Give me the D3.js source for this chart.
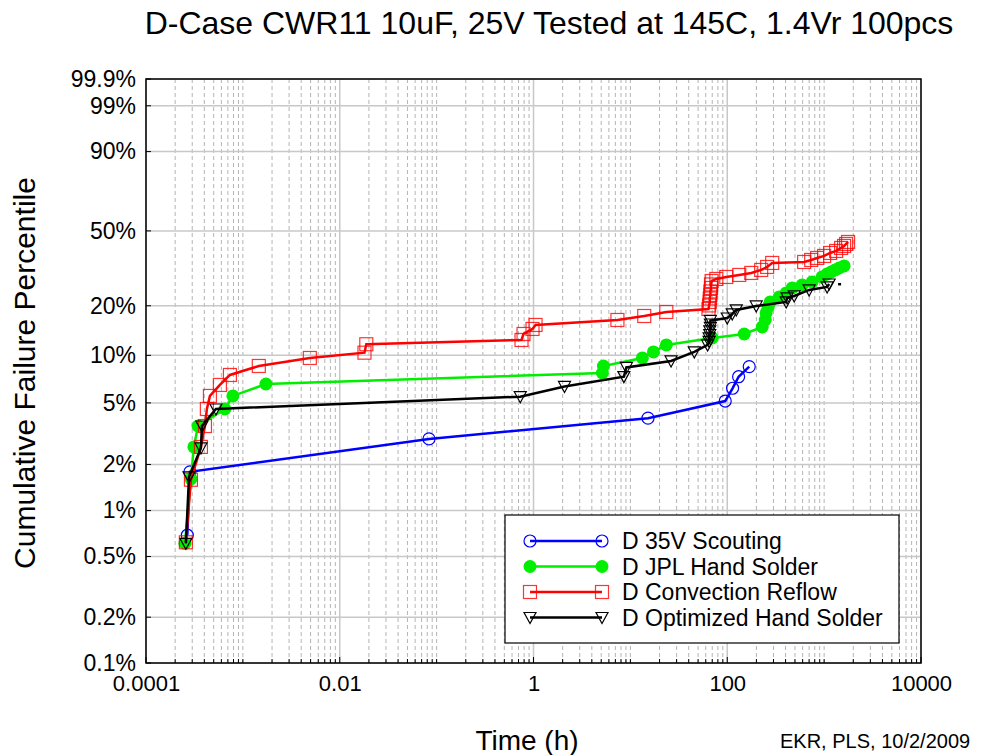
<!DOCTYPE html>
<html>
<head>
<meta charset="utf-8">
<script src="https://cdn.jsdelivr.net/npm/d3@7"></script>
<style>
  body { margin: 0; background: #fff; }
  svg { font-family: Arial, "Liberation Sans", sans-serif; }
</style>
</head>
<body>
<div id="chart"></div>
<script>
// D 35V Scouting
const scoutTime = [2.67e-4, 2.84e-4, 0.0834, 15.2, 95.3, 113.5, 131, 168.6];
const scoutPct  = [0.69, 1.79, 2.93, 3.99, 5.14, 6.20, 7.34, 8.50];

// D JPL Hand Solder
const jplTime = [2.52e-4, 2.91e-4, 3.12e-4, 3.44e-4, 6.52e-4, 7.88e-4, 1.73e-3, 5.14, 5.27, 13.3,
                 17.3, 23.5, 70.0, 149.6, 229.6, 246.6, 252, 264.6, 277.5, 343.6,
                 405.7, 468, 593, 752, 953, 1074, 1180, 1298, 1428, 1608];
const jplPct  = [0.61, 1.61, 2.60, 3.55, 4.57, 5.54, 6.60, 7.75, 8.58, 9.63,
                 10.50, 11.60, 12.81, 13.55, 14.95, 16.47, 18.14, 19.68, 21.06, 22.51,
                 23.73, 25.34, 26.35, 27.39, 29.19, 30.32, 31.07, 31.87, 32.66, 33.48];

// D Convection Reflow
const reflowTime = [2.58e-4, 2.91e-4, 3.69e-4, 4.06e-4, 4.25e-4, 4.57e-4, 5.79e-4, 7.35e-4, 1.46e-3, 4.91e-3,
                    0.0180, 0.0188, 0.752, 0.789, 0.977, 1.05, 7.35, 13.9, 23.5, 64,
                    65, 66, 66, 67, 67, 68, 68, 69, 77.1, 97.7,
                    133, 177, 224, 258, 291, 622, 735, 847, 1000, 1153,
                    1330, 1497, 1608, 1687, 1767];
const reflowPct  = [0.62, 1.59, 2.60, 3.55, 4.57, 5.54, 6.51, 7.53, 8.58, 9.63,
                    10.39, 11.72, 12.45, 13.55, 14.54, 15.37, 16.47, 17.40, 18.39, 19.15,
                    20.09, 21.06, 22.06, 23.11, 24.20, 25.34, 26.51, 27.73, 28.45, 29.19,
                    29.94, 30.70, 31.87, 33.07, 34.73, 35.15, 36.01, 36.88, 37.77, 39.13,
                    40.05, 41.46, 42.41, 43.38, 44.36];

// D Optimized Hand Solder
const optTime = [2.58e-4, 2.78e-4, 3.69e-4, 3.78e-4, 5.27e-4, 0.730, 2.09, 8.57, 9.10, 26.3,
                 45.7, 62.7, 65, 65, 66, 66, 67, 67, 67, 100,
                 112.6, 123.9, 199, 406, 415, 491, 700, 1074, 1127];
const optPct  = [0.61, 1.66, 2.56, 3.55, 4.57, 5.48, 6.37, 7.35, 8.40, 9.23,
                 10.50, 11.60, 12.19, 12.81, 13.45, 14.14, 14.85, 15.58, 16.36, 16.93,
                 17.89, 18.90, 19.95, 21.06, 22.21, 22.81, 24.69, 25.67, 26.68];
const optTailTime = [1393, 1571];
const optTailPct  = [26.6, 26.6];

const yTicks = [0.1, 0.2, 0.5, 1, 2, 5, 10, 20, 50, 90, 99, 99.9];
const yTickLabels = ["0.1%", "0.2%", "0.5%", "1%", "2%", "5%", "10%", "20%", "50%", "90%", "99%", "99.9%"];
const xTicks = [1e-4, 1e-2, 1, 1e2, 1e4];
const xTickLabels = ["0.0001", "0.01", "1", "100", "10000"];

const seriesNames = ["D 35V Scouting", "D JPL Hand Solder", "D Convection Reflow", "D Optimized Hand Solder"];

const W = 1001, H = 755;
const margin = {top: 79, right: 80, bottom: 92, left: 146};
const width = W - margin.left - margin.right;
const height = H - margin.top - margin.bottom;

// weibull probability transform
const weib = p => Math.log(-Math.log(1 - p / 100));

const x = d3.scaleLog().domain([1e-4, 1e4]).range([0, width]);
const yLin = d3.scaleLinear().domain([weib(0.1), weib(99.9)]).range([height, 0]);
const y = p => yLin(weib(p));

const svg = d3.select("#chart").append("svg")
    .attr("width", W)
    .attr("height", H);

const g = svg.append("g")
    .attr("transform", "translate(" + margin.left + "," + margin.top + ")");

// grid - vertical
const minorX = [];
for (let e = -4; e < 4; e++) {
    for (let k = 1; k <= 9; k++) {
        const v = k * Math.pow(10, e);
        if (k === 1 && e % 2 === 0) continue;
        minorX.push(v);
    }
}
g.append("g").selectAll("line").data(minorX).join("line")
    .attr("x1", d => x(d)).attr("x2", d => x(d))
    .attr("y1", 0).attr("y2", height)
    .attr("stroke", "#b4b4b4")
    .attr("stroke-width", 1)
    .attr("stroke-dasharray", "4,3");

g.append("g").selectAll("line").data(xTicks).join("line")
    .attr("x1", d => x(d)).attr("x2", d => x(d))
    .attr("y1", 0).attr("y2", height)
    .attr("stroke", "#c8c8c8")
    .attr("stroke-width", 1.5);

// grid - horizontal
g.append("g").selectAll("line").data(yTicks).join("line")
    .attr("x1", 0).attr("x2", width)
    .attr("y1", d => y(d)).attr("y2", d => y(d))
    .attr("stroke", "#c8c8c8")
    .attr("stroke-width", 1.5);

// axes
const xAxis = d3.axisBottom(x).tickValues(xTicks).tickFormat((d, i) => xTickLabels[i]).tickSize(0).tickPadding(12);
const xAxisG = g.append("g").attr("transform", "translate(0," + height + ")").call(xAxis);
xAxisG.select(".domain").remove();
xAxisG.selectAll("text").attr("font-size", 22).attr("fill", "#000");

const yAxis = d3.axisLeft(yLin).tickValues(yTicks.map(weib)).tickFormat((d, i) => yTickLabels[i]).tickSize(0).tickPadding(10);
const yAxisG = g.append("g").call(yAxis);
yAxisG.select(".domain").remove();
yAxisG.selectAll("text").attr("font-size", 23).attr("fill", "#000");

// small inner ticks on axes
g.append("g").selectAll("line").data(minorX.concat(xTicks)).join("line")
    .attr("x1", d => x(d)).attr("x2", d => x(d))
    .attr("y1", height).attr("y2", d => xTicks.includes(d) ? height - 6 : height - 4)
    .attr("stroke", "#000");
g.append("g").selectAll("line").data(yTicks).join("line")
    .attr("x1", 0).attr("x2", 5)
    .attr("y1", d => y(d)).attr("y2", d => y(d))
    .attr("stroke", "#000");

// frame
g.append("rect")
    .attr("x", 0).attr("y", 0)
    .attr("width", width).attr("height", height)
    .attr("fill", "none")
    .attr("stroke", "#000")
    .attr("stroke-width", 1.5);

const line = d3.line().x(d => x(d[0])).y(d => y(d[1]));
const zip = (a, b) => a.map((v, i) => [v, b[i]]);

const series = [
    {name: seriesNames[0], pts: zip(scoutTime, scoutPct), color: "#0000ff", marker: "circle"},
    {name: seriesNames[1], pts: zip(jplTime, jplPct), color: "#00ee00", marker: "dot"},
    {name: seriesNames[2], pts: zip(reflowTime, reflowPct), color: "#ff0000", marker: "square"},
    {name: seriesNames[3], pts: zip(optTime, optPct), color: "#000000", marker: "triangle"}
];

function drawMarker(sel, type, color) {
    if (type === "circle") {
        sel.append("circle").attr("r", 6).attr("fill", "none").attr("stroke", color).attr("stroke-width", 1.2);
    } else if (type === "dot") {
        sel.append("circle").attr("r", 6.5).attr("fill", color).attr("stroke", "none");
    } else if (type === "square") {
        sel.append("rect").attr("x", -6.5).attr("y", -6.5).attr("width", 13).attr("height", 13)
            .attr("fill", "none").attr("stroke", color).attr("stroke-opacity", 0.8).attr("stroke-width", 1.2);
    } else {
        sel.append("path").attr("d", "M-6,-5L6,-5L0,6Z")
            .attr("fill", "none").attr("stroke", color).attr("stroke-width", 1.2);
    }
}

const plotG = g.append("g");
series.forEach(s => {
    const sg = plotG.append("g");
    sg.append("path").datum(s.pts)
        .attr("d", line)
        .attr("fill", "none")
        .attr("stroke", s.color)
        .attr("stroke-width", 2.5);
    sg.selectAll(".mk").data(s.pts).join("g")
        .attr("class", "mk")
        .attr("transform", d => "translate(" + x(d[0]) + "," + y(d[1]) + ")")
        .each(function () { drawMarker(d3.select(this), s.marker, s.color); });
});
plotG.append("path").datum(zip(optTailTime, optTailPct))
    .attr("d", line).attr("fill", "none").attr("stroke", "#000").attr("stroke-width", 2.5)
    .attr("stroke-dasharray", "3,4");

// legend
const lg = svg.append("g").attr("transform", "translate(505,515)");
lg.append("rect").attr("width", 394).attr("height", 128)
    .attr("fill", "#fff").attr("stroke", "#000").attr("stroke-width", 1.2);
series.forEach((s, i) => {
    const row = lg.append("g").attr("transform", "translate(0," + (26 + i * 25.5) + ")");
    row.append("line").attr("x1", 25).attr("x2", 97).attr("y1", 0).attr("y2", 0)
        .attr("stroke", s.color).attr("stroke-width", 2.5);
    [25, 97].forEach(px => {
        const m = row.append("g").attr("transform", "translate(" + px + ",0)");
        drawMarker(m, s.marker, s.color);
    });
    row.append("text").attr("x", 117).attr("y", 0).attr("dy", "0.35em")
        .attr("font-size", 23).text(s.name);
});

// titles
svg.append("text").attr("x", 549).attr("y", 34).attr("text-anchor", "middle")
    .attr("font-size", 32).text("D-Case CWR11 10uF, 25V Tested at 145C, 1.4Vr 100pcs");
svg.append("text").attr("x", 527).attr("y", 750).attr("text-anchor", "middle")
    .attr("font-size", 28).text("Time (h)");
svg.append("text").attr("transform", "translate(35,373) rotate(-90)").attr("text-anchor", "middle")
    .attr("font-size", 30).text("Cumulative Failure Percentile");
svg.append("text").attr("x", 780).attr("y", 748)
    .attr("font-size", 20).text("EKR, PLS, 10/2/2009");
</script>
</body>
</html>
